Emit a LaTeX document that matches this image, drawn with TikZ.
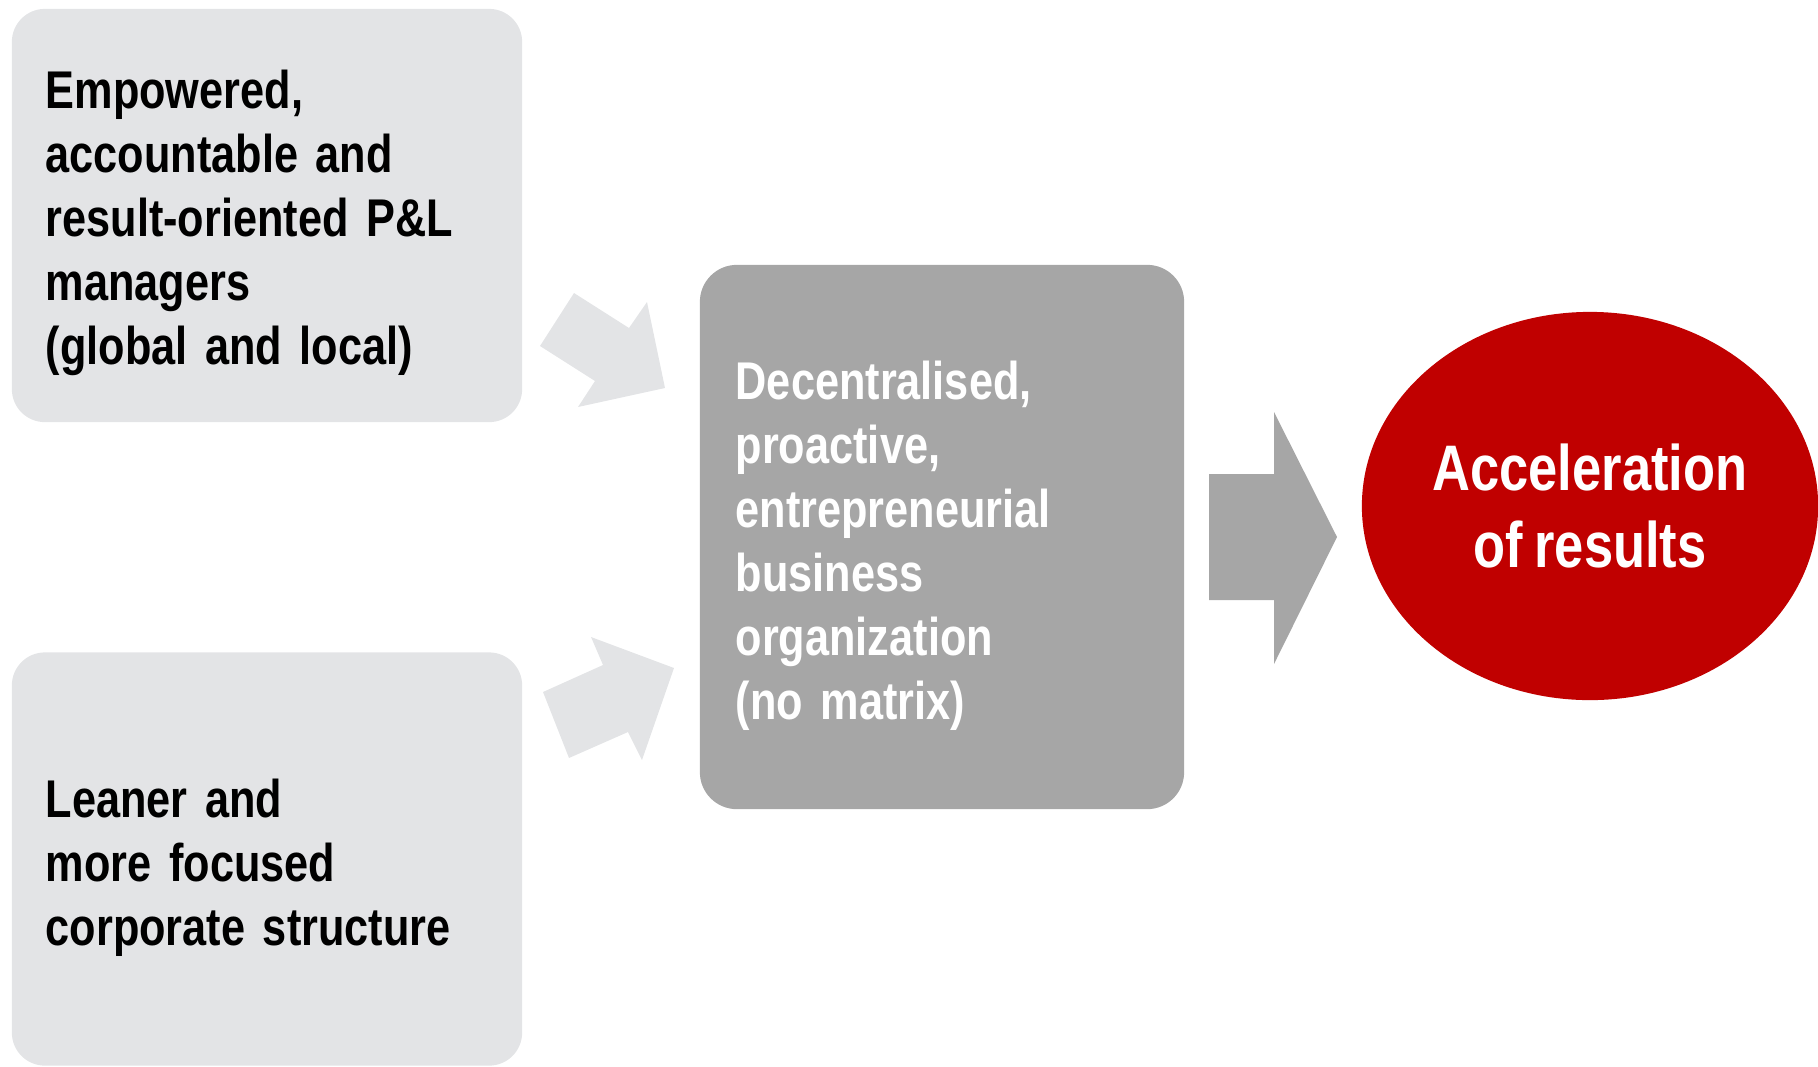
\documentclass[tikz,border=0pt]{standalone}
\usepackage{fontspec}
\setmainfont{Liberation Sans}[FakeStretch=0.815, WordSpace=0.8]
\usepackage{tikz}
\usetikzlibrary{shapes.geometric}
\usetikzlibrary{calc}

\definecolor{boxgrey}{HTML}{E3E4E6}
\definecolor{midgrey}{HTML}{A6A6A6}
\definecolor{resultred}{HTML}{C00000}

\begin{document}
\begin{tikzpicture}[x=0.01cm, y=-0.01cm,
        lightbox/.style={fill=boxgrey, rounded corners=0.33cm, inner sep=0pt,
                minimum width=5.10cm, minimum height=4.13cm},
        midbox/.style={fill=midgrey, rounded corners=0.37cm, inner sep=0pt,
                minimum width=4.84cm, minimum height=5.44cm},
        boxtext/.style={anchor=base west, inner sep=0pt, align=left, text width=4.6cm,
                font=\fontsize{15.1}{18.2}\selectfont\bfseries},
        resultnode/.style={ellipse, fill=resultred, inner sep=0pt, text=white, align=center,
                minimum width=4.56cm, minimum height=3.88cm,
                font=\fontsize{18.3}{21.9}\selectfont\bfseries}]

        \useasboundingbox (0,0) rectangle (1818,1066);

        \node[lightbox] (managers) at (267,215.5) {};
        \node[lightbox] (leaner) at (267,859) {};
        \node[midbox] (decentral) at (942,537) {};
        \node[resultnode] (accel) at (1590,506) {Acceleration\\of results};

        \node[boxtext] (managerstext) at (45,108) {Empowered,\\accountable and\\result-oriented P\&L\\managers\\(global and local)};
        \node[boxtext] (leanertext) at (45,817) {Leaner and\\more focused\\corporate structure};
        \node[boxtext, text=white] (decentraltext) at (735,399) {Decentralised,\\proactive,\\entrepreneurial\\business\\organization\\(no matrix)};

        \fill[boxgrey] (574,293) -- (629,328) -- (647,302) -- (665,388) -- (578,407) -- (595,381) -- (540,346) -- cycle;
        \fill[boxgrey] (543,692) -- (603,665) -- (591,637) -- (674,668) -- (642,760) -- (628,732) -- (569,758) -- cycle;
        \fill[midgrey] (1209,474) -- (1274,474) -- (1274,412) -- (1337,537) -- (1274,664) -- (1274,600) -- (1209,600) -- cycle;

    \end{tikzpicture}
\end{document}
